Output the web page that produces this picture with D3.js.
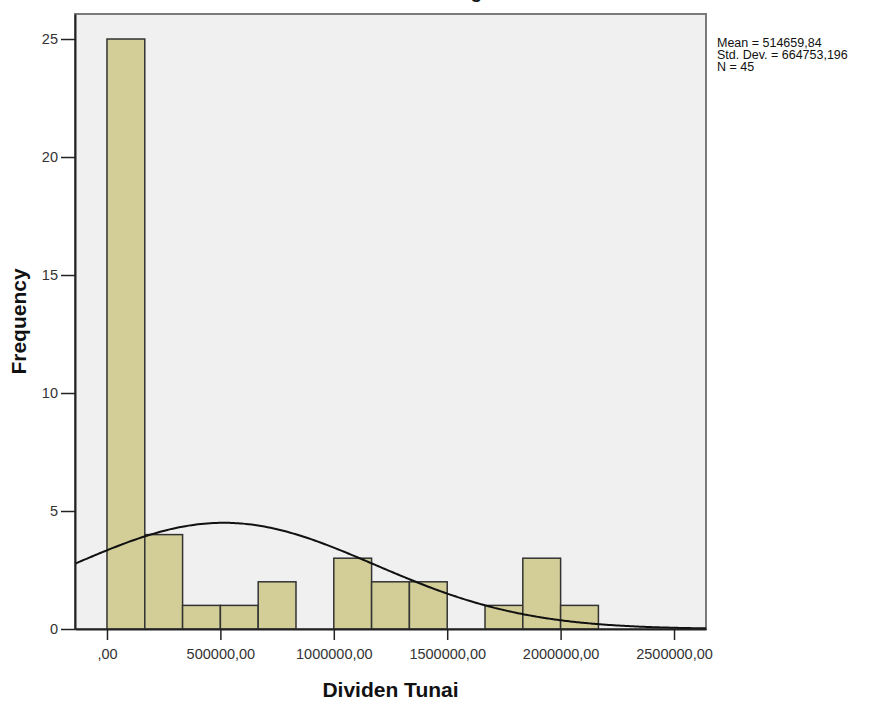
<!DOCTYPE html>
<html>
<head>
<meta charset="utf-8">
<script src="https://cdn.jsdelivr.net/npm/d3@7"></script>
<style>
  body { margin: 0; background: #fff; }
  svg { display: block; font-family: Arial, "Liberation Sans", sans-serif; }
</style>
</head>
<body>
<div id="chart"></div>
<script>
// histogram bins (lower edge = index * binWidth)
const binWidth = 166666.67;
const counts = [25, 4, 1, 1, 2, 0, 3, 2, 2, 0, 1, 3, 1];

const xTicks = [0, 500000, 1000000, 1500000, 2000000, 2500000];
const yTicks = [0, 5, 10, 15, 20, 25];

const stats = { mean: 514659.84, sd: 664753.196, n: 45 };
const statLines = ['Mean = 514659,84', 'Std. Dev. = 664753,196', 'N = 45'];

const width = 894;
const height = 702;
const plot = { left: 75, right: 706, top: 14, bottom: 629 };

const svg = d3.select('#chart')
    .append('svg')
    .attr('width', width)
    .attr('height', height);

const x = d3.scaleLinear()
    .domain([-141000, 2641000])
    .range([plot.left, plot.right]);

const y = d3.scaleLinear()
    .domain([0, 26.06])
    .range([plot.bottom, plot.top]);

// title, mostly clipped off the top like the original
svg.append('text')
    .attr('x', 470)
    .attr('y', -2)
    .attr('text-anchor', 'middle')
    .attr('font-size', '19px')
    .attr('font-weight', 'bold')
    .attr('fill', '#111')
    .text('Histogram');

// plot background
svg.append('rect')
    .attr('x', plot.left)
    .attr('y', plot.top)
    .attr('width', plot.right - plot.left)
    .attr('height', plot.bottom - plot.top)
    .attr('fill', '#f0f0f0')
    .attr('stroke', '#7a7a7a')
    .attr('stroke-width', 2);

// bars
svg.selectAll('rect.bar')
    .data(counts.map((c, i) => ({ x0: i * binWidth, x1: (i + 1) * binWidth, c })).filter(d => d.c > 0))
    .enter()
    .append('rect')
    .attr('class', 'bar')
    .attr('x', d => x(d.x0))
    .attr('y', d => y(d.c))
    .attr('width', d => x(d.x1) - x(d.x0))
    .attr('height', d => y(0) - y(d.c))
    .attr('fill', '#d3ce97')
    .attr('stroke', '#333')
    .attr('stroke-width', 1.5);

// normal curve from the reported mean / sd
const scale = stats.n * binWidth / (stats.sd * Math.sqrt(2 * Math.PI));
const curvePts = d3.range(0, 201).map(i => {
    const v = x.domain()[0] + (x.domain()[1] - x.domain()[0]) * i / 200;
    const z = (v - stats.mean) / stats.sd;
    return [v, scale * Math.exp(-0.5 * z * z)];
});

svg.append('path')
    .datum(curvePts)
    .attr('fill', 'none')
    .attr('stroke', '#111')
    .attr('stroke-width', 2)
    .attr('d', d3.line().x(d => x(d[0])).y(d => y(d[1])).curve(d3.curveBasis));

// axes
const xAxis = svg.append('g')
    .attr('transform', `translate(0,${plot.bottom})`)
    .call(d3.axisBottom(x)
        .tickValues(xTicks)
        .tickSize(11)
        .tickSizeOuter(0)
        .tickPadding(9)
        .tickFormat(v => v === 0 ? ',00' : d3.format('.2f')(v).replace('.', ',')));

const yAxis = svg.append('g')
    .attr('transform', `translate(${plot.left},0)`)
    .call(d3.axisLeft(y)
        .tickValues(yTicks)
        .tickSize(14)
        .tickSizeOuter(0)
        .tickPadding(3));

[xAxis, yAxis].forEach(g => {
    g.select('.domain').attr('stroke', '#222').attr('stroke-width', 2);
    g.selectAll('.tick line').attr('stroke', '#222').attr('stroke-width', 1.5);
    g.selectAll('.tick text')
        .attr('font-size', '14.5px')
        .attr('font-family', 'Arial, "Liberation Sans", sans-serif')
        .attr('fill', '#333');
});

// axis titles
svg.append('text')
    .attr('x', (plot.left + plot.right) / 2)
    .attr('y', 697)
    .attr('text-anchor', 'middle')
    .attr('font-size', '21px')
    .attr('font-weight', 'bold')
    .attr('fill', '#111')
    .text('Dividen Tunai');

svg.append('text')
    .attr('transform', `translate(26,${(plot.top + plot.bottom) / 2}) rotate(-90)`)
    .attr('text-anchor', 'middle')
    .attr('font-size', '21px')
    .attr('font-weight', 'bold')
    .attr('fill', '#111')
    .text('Frequency');

// stats box text
svg.append('g')
    .selectAll('text')
    .data(statLines)
    .enter()
    .append('text')
    .attr('x', 717)
    .attr('y', (d, i) => 47 + i * 12)
    .attr('font-size', '12.5px')
    .attr('fill', '#111')
    .text(d => d);
</script>
</body>
</html>
